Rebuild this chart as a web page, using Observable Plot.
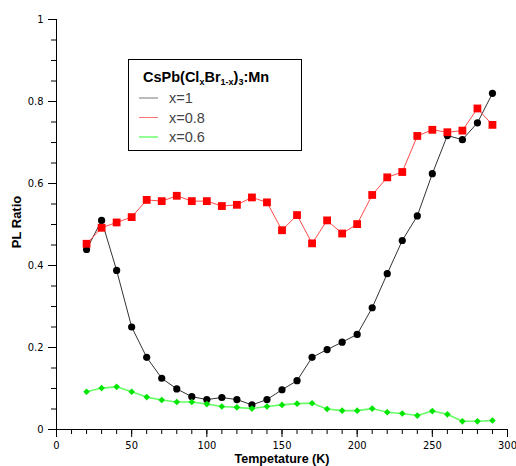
<!DOCTYPE html>
<html><head><meta charset="utf-8">
<script src="https://cdn.jsdelivr.net/npm/d3@7"></script>
<script src="https://cdn.jsdelivr.net/npm/@observablehq/plot@0.6"></script>
<style>body{margin:0;background:#fff;} svg{display:block}</style>
</head><body><div id="chart"></div>
<script>
const temperatures = [20,30,40,50,60,70,80,90,100,110,120,130,140,150,160,170,180,190,200,210,220,230,240,250,260,270,280,290];
const ratioX1 = [0.439,0.510,0.388,0.250,0.176,0.125,0.099,0.080,0.073,0.078,0.073,0.060,0.073,0.097,0.119,0.176,0.195,0.213,0.232,0.297,0.380,0.461,0.521,0.624,0.717,0.707,0.748,0.820];
const ratioX08 = [0.453,0.492,0.505,0.518,0.560,0.557,0.570,0.557,0.557,0.545,0.548,0.566,0.554,0.486,0.523,0.454,0.510,0.478,0.501,0.572,0.615,0.628,0.716,0.731,0.725,0.729,0.783,0.743];
const ratioX06 = [0.092,0.101,0.104,0.092,0.079,0.072,0.067,0.067,0.062,0.056,0.054,0.051,0.056,0.060,0.063,0.064,0.050,0.046,0.046,0.051,0.042,0.039,0.034,0.045,0.037,0.020,0.020,0.022];
const seriesNames = ["x=1","x=0.8","x=0.6"];
const xMajorTicks = [0,50,100,150,200,250,300];
const xMinorTicks = d3.range(0,301,10);
const yMajorTicks = [0,0.2,0.4,0.6,0.8,1];
const yMinorTicks = d3.range(0,1.001,0.05);
const xLabel = "Tempetature (K)";
const yLabel = "PL Ratio";

const toRows = (vals, name) => temperatures.map((t,i)=>({t, v: vals[i], series: name}));
const d1 = toRows(ratioX1, seriesNames[0]);
const d08 = toRows(ratioX08, seriesNames[1]);
const d06 = toRows(ratioX06, seriesNames[2]);

const tickFont = "'DejaVu Sans Condensed','Liberation Sans Narrow',sans-serif";

const svg = Plot.plot({
  width:516, height:466, marginLeft:56, marginRight:9, marginTop:19, marginBottom:37,
  style:{background:"#fff", fontFamily: tickFont, fontSize:"11px", fontStretch:"condensed", color:"#000"},
  x:{domain:[0,300]}, y:{domain:[0,1]},
  marks:[
    Plot.axisX(xMinorTicks,{tickSize:5, tickFormat:()=>"", label:null}),
    Plot.axisX(xMajorTicks,{tickSize:8, tickPadding:4, label:null, tickFormat:d=>String(d)}),
    Plot.axisY(yMinorTicks,{tickSize:5, tickFormat:()=>"", label:null}),
    Plot.axisY(yMajorTicks,{tickSize:8, tickPadding:5, label:null, tickFormat:d=>String(d)}),
    Plot.ruleY([0],{stroke:"#000"}),
    Plot.ruleX([0],{stroke:"#000"}),
    Plot.line(d1,{x:"t",y:"v",stroke:"#333",strokeWidth:1}),
    Plot.dot(d1,{x:"t",y:"v",fill:"#000",r:3.6,symbol:"circle"}),
    Plot.line(d08,{x:"t",y:"v",stroke:"#ff4a4a",strokeWidth:1}),
    Plot.dot(d08,{x:"t",y:"v",fill:"#ff0000",r:4.4,symbol:"square"}),
    Plot.line(d06,{x:"t",y:"v",stroke:"#66ff66",strokeWidth:1.6}),
    Plot.dot(d06,{x:"t",y:"v",fill:"#00e600",r:3,symbol:"diamond2"})
  ]
});
document.getElementById("chart").appendChild(svg);

const s = d3.select(svg);
const labelFont = "'Liberation Sans',Arial,sans-serif";
s.append("text").attr("x",282).attr("y",463).attr("text-anchor","middle")
  .attr("font-family",labelFont).attr("font-weight","bold").attr("font-size",12.5)
  .attr("fill","#000").text(xLabel);
s.append("text").attr("transform","translate(21,222) rotate(-90)").attr("text-anchor","middle")
  .attr("font-family",labelFont).attr("font-weight","bold").attr("font-size",13)
  .attr("fill","#000").text(yLabel);

// legend
const lg = s.append("g").attr("font-family",labelFont).attr("text-anchor","start").style("font-stretch","normal");
lg.append("rect").attr("x",128.5).attr("y",59.5).attr("width",173).attr("height",91)
  .attr("fill","#fff").attr("stroke","#000").attr("stroke-width",1);
const title = lg.append("text").attr("x",143).attr("y",82).attr("text-anchor","start").attr("font-size",14.5).attr("font-weight","bold").attr("fill","#000");
title.append("tspan").text("CsPb(Cl");
title.append("tspan").attr("font-size",9).attr("dy",3).text("x");
title.append("tspan").attr("dy",-3).text("Br");
title.append("tspan").attr("font-size",9).attr("dy",3).text("1-x");
title.append("tspan").attr("dy",-3).text(")");
title.append("tspan").attr("font-size",9).attr("dy",3).text("3");
title.append("tspan").attr("dy",-3).text(":Mn");
const legendColors = ["#777","#ff7070","#22ff22"];
seriesNames.forEach((name,i)=>{
  const y = 98 + i*19.5;
  lg.append("line").attr("x1",139).attr("x2",158).attr("y1",y).attr("y2",y).attr("stroke",legendColors[i]).attr("stroke-width",1);
  lg.append("text").attr("x",169).attr("y",y+5).attr("text-anchor","start").attr("font-size",14.5).attr("fill","#444").text(name);
});
</script></body></html>
